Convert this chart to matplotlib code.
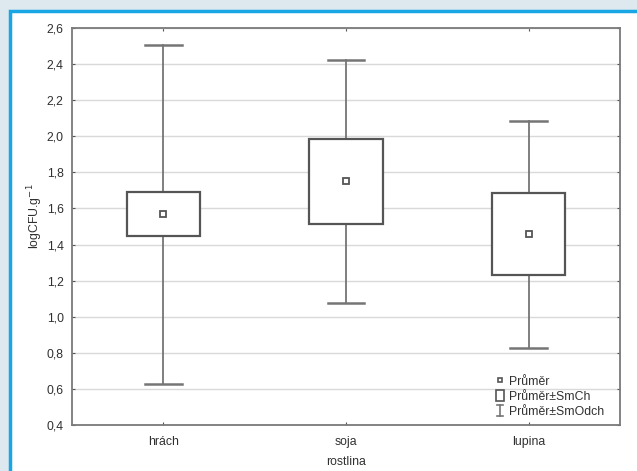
import matplotlib
matplotlib.use("Agg")
import matplotlib.pyplot as plt
from matplotlib.patches import Rectangle
from matplotlib.lines import Line2D
from matplotlib.legend_handler import HandlerBase
from matplotlib.ticker import FuncFormatter

categories = ["hrách", "soja", "lupina"]
means = [1.567, 1.750, 1.457]
se = [0.122, 0.236, 0.227]
sd = [0.940, 0.675, 0.628]
legend_labels = ["Průměr", "Průměr±SmCh", "Průměr±SmOdch"]

plt.rcParams['font.family'] = ['Liberation Sans', 'DejaVu Sans']
txt = '#303030'
line_c = '#757575'
box_c = '#555555'
fs = 8.8

fig = plt.figure(figsize=(6.37, 4.71), dpi=100)
fig.patch.set_facecolor('#dde8ef')
W, H = 637, 471
panel = Rectangle((10 / W, -0.05), 1.0, 1 - 11 / H + 0.05, transform=fig.transFigure,
                  facecolor='white', edgecolor='#19a6e4', linewidth=2.5, zorder=-10)
fig.patches.append(panel)

ax = fig.add_axes([72 / W, 1 - 425 / H, (620 - 72) / W, (425 - 28) / H])
ax.set_facecolor('none')
ax.set_zorder(1)
ax.set_xlim(-0.5, 2.5)
ax.set_ylim(0.4, 2.6)
ax.set_yticks([0.4 + 0.2 * i for i in range(12)])
ax.yaxis.set_major_formatter(FuncFormatter(lambda v, p: f"{v:.1f}".replace('.', ',')))
ax.set_xticks(range(len(categories)))
ax.set_xticklabels(categories)
ax.grid(axis='y', color='#d9d9d9', linewidth=1.0, zorder=0)
ax.set_axisbelow(True)
ax.tick_params(direction='in', length=2.5, width=0.8, color='#555555', labelsize=fs,
               labelcolor=txt, top=True, right=True, pad=6)
ax.tick_params(axis='x', pad=8)
for s in ax.spines.values():
    s.set_color('#7a7a7a')
    s.set_linewidth(1.3)

bw = 0.4
cw = 0.2
for i, (m, e, d) in enumerate(zip(means, se, sd)):
    ax.plot([i, i], [m - d, m - e], color=line_c, lw=1.3, zorder=2)
    ax.plot([i, i], [m + e, m + d], color=line_c, lw=1.3, zorder=2)
    ax.plot([i - cw / 2, i + cw / 2], [m - d, m - d], color=line_c, lw=1.8, zorder=2)
    ax.plot([i - cw / 2, i + cw / 2], [m + d, m + d], color=line_c, lw=1.8, zorder=2)
    ax.add_patch(Rectangle((i - bw / 2, m - e), bw, 2 * e, facecolor='white',
                           edgecolor=box_c, linewidth=1.6, zorder=3))
    ax.plot([i], [m], marker='s', markersize=4, markerfacecolor='white',
            markeredgecolor=box_c, markeredgewidth=1.3, zorder=4)

ax.set_xlabel("rostlina", fontsize=fs, color=txt)
ax.xaxis.set_label_coords(0.5, -0.078)
ax.set_ylabel("logCFU.g$^{-1}$", fontsize=fs, color=txt)
ax.yaxis.set_label_coords(-0.05, 0.525)


class WhiskerHandler(HandlerBase):
    def create_artists(self, legend, orig_handle, xdescent, ydescent, width, height, fontsize, trans):
        cx = width / 2 - xdescent
        y0 = -ydescent - 1
        y1 = height - ydescent + 1
        hw = width * 0.3
        return [Line2D([cx, cx], [y0, y1], color=line_c, lw=1.2, transform=trans),
                Line2D([cx - hw, cx + hw], [y0, y0], color=line_c, lw=1.2, transform=trans),
                Line2D([cx - hw, cx + hw], [y1, y1], color=line_c, lw=1.2, transform=trans)]


class BoxHandler(HandlerBase):
    def create_artists(self, legend, orig_handle, xdescent, ydescent, width, height, fontsize, trans):
        w = width * 0.75
        return [Rectangle((width / 2 - w / 2 - xdescent, -ydescent - 1), w, height + 2,
                          facecolor='white', edgecolor=box_c, lw=1.2, transform=trans)]


h_mean = Line2D([], [], marker='s', markersize=3.5, linestyle='none', markerfacecolor='white',
                markeredgecolor=box_c, markeredgewidth=1.2)
h_box = Rectangle((0, 0), 1, 1)
h_wh = Line2D([], [])
leg = ax.legend([h_mean, h_box, h_wh], legend_labels,
                handler_map={Rectangle: BoxHandler(), h_wh: WhiskerHandler()},
                loc='lower right', bbox_to_anchor=(0.985, 0.0), frameon=False, fontsize=fs,
                handlelength=0.9, handletextpad=0.3, labelspacing=0.25, borderaxespad=0.2)
for t in leg.get_texts():
    t.set_color(txt)

fig.savefig("out.png", dpi=100, facecolor=fig.get_facecolor())
